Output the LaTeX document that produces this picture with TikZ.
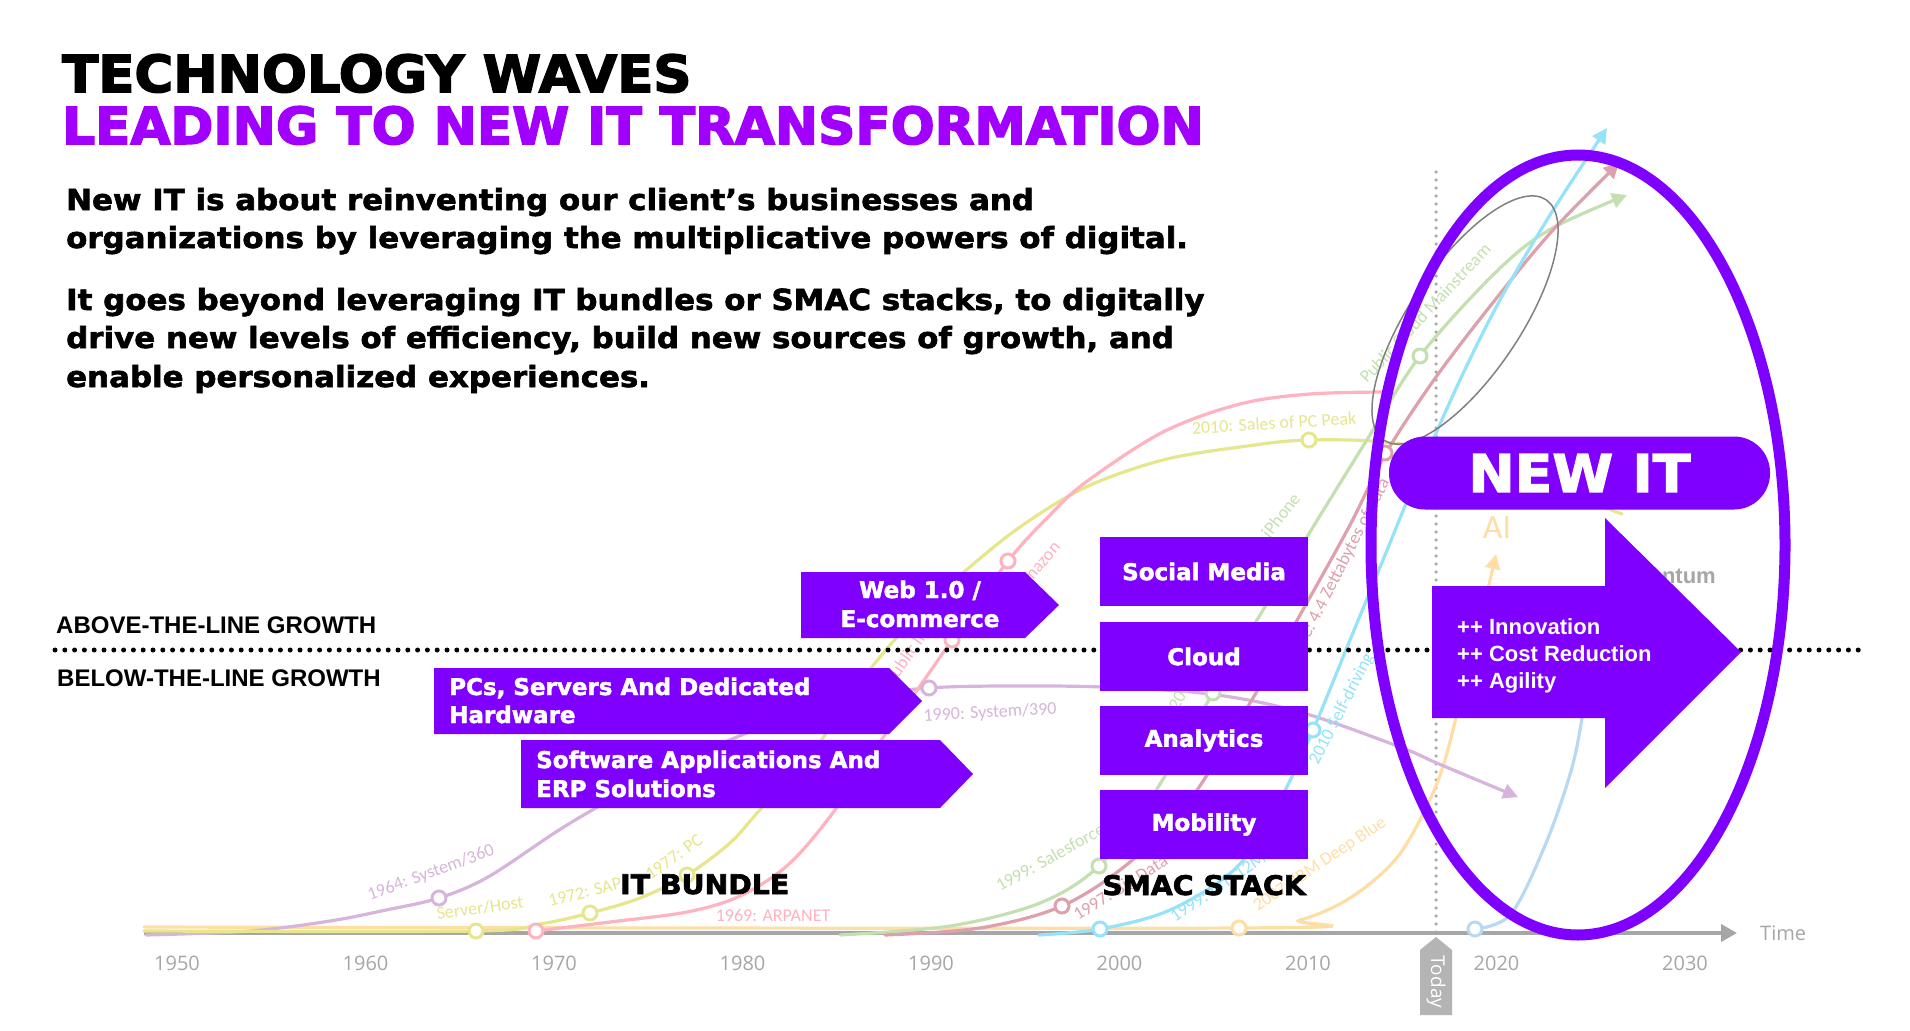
\documentclass[tikz,border=0pt]{standalone}
\usepackage{fontspec}
\usetikzlibrary{arrows.meta,calc}
\setmainfont{Liberation Sans}
\newfontfamily\titlefont{DejaVu Sans}[BoldFeatures={FakeBold=3,FakeStretch=1.038}]
\newfontfamily\subtitlefont{DejaVu Sans}[BoldFeatures={FakeBold=3,FakeStretch=1.014}]
\newfontfamily\bodyfont{DejaVu Sans}[BoldFeatures={FakeBold=2,FakeStretch=1.065}]
\newfontfamily\boxfont{DejaVu Sans}[BoldFeatures={FakeBold=2}]
\newfontfamily\stackfont{DejaVu Sans}[BoldFeatures={FakeBold=2.5,FakeStretch=1.05}]
\newfontfamily\pillfont{DejaVu Sans}[BoldFeatures={FakeBold=2.5,FakeStretch=1.06}]
\newfontfamily\arialbold{Liberation Sans}
\newfontfamily\labfont{Carlito}
\newfontfamily\yearfont{Open Sans}

\definecolor{vio}{RGB}{127,0,255}
\definecolor{titlevio}{RGB}{161,0,255}
\definecolor{cLilac}{RGB}{215,180,220}
\definecolor{cYellow}{RGB}{230,230,140}
\definecolor{cPink}{RGB}{255,178,192}
\definecolor{cGreen}{RGB}{197,224,176}
\definecolor{cRose}{RGB}{222,160,172}
\definecolor{cCyan}{RGB}{150,226,248}
\definecolor{cPeach}{RGB}{255,222,165}
\definecolor{cSky}{RGB}{185,216,242}
\definecolor{axisgray}{RGB}{166,166,166}
\definecolor{taggray}{RGB}{180,180,180}

\tikzset{
  wave/.style={line width=3.2pt, line cap=round},
  wavetip/.style={-{Triangle[length=15pt,width=15pt]}},
  milestone/.style={circle, draw, fill=white, line width=3pt, minimum size=14pt, inner sep=0pt},
  tag/.style={font=\labfont\fontsize{18}{20}\selectfont, inner sep=0pt},
  yearlab/.style={font=\yearfont\fontsize{20}{22}\selectfont, text=axisgray, inner sep=0pt},
  boxtext/.style={text=white, font=\boxfont\bfseries\fontsize{23}{28}\selectfont, inner sep=0pt},
  smacbox/.style={fill=vio, minimum width=208pt, minimum height=69pt, inner sep=0pt,
    text=white, font=\boxfont\bfseries\fontsize{23}{28}\selectfont},
  bodytext/.style={font=\bodyfont\bfseries\fontsize{29}{34}\selectfont, inner sep=0pt, anchor=base west},
  titletext/.style={font=\titlefont\bfseries\fontsize{51}{56}\selectfont, inner sep=0pt, anchor=base west},
  subtitletext/.style={font=\subtitlefont\bfseries\fontsize{51}{56}\selectfont, inner sep=0pt, anchor=base west},
  linelab/.style={font=\arialbold\bfseries\fontsize{24}{26}\selectfont, inner sep=0pt, anchor=base west},
  stacklab/.style={font=\stackfont\bfseries\fontsize{27}{30}\selectfont, inner sep=0pt, anchor=base west},
  gaintext/.style={text=white, font=\arialbold\bfseries\fontsize{22}{24}\selectfont, inner sep=0pt, anchor=base west}
}

\begin{document}
\begin{tikzpicture}[x=1pt,y=-1pt]
\fill[white] (0,0) rectangle (1910,1030);
\useasboundingbox (0,0) rectangle (1910,1030);

% ---------- heading and intro ----------
\node[titletext] (t1) at (62,92) {TECHNOLOGY WAVES};
\node[subtitletext, text=titlevio] (t2) at (62,144) {LEADING TO NEW IT TRANSFORMATION};
\node[bodytext] (b1) at (66,210) {New IT is about reinventing our client’s businesses and};
\node[bodytext] (b2) at (66,248) {organizations by leveraging the multiplicative powers of digital.};
\node[bodytext] (b3) at (66,310) {It goes beyond leveraging IT bundles or SMAC stacks, to digitally};
\node[bodytext] (b4) at (66,348) {drive new levels of efficiency, build new sources of growth, and};
\node[bodytext] (b5) at (66,387) {enable personalized experiences.};

% ---------- today marker ----------
\coordinate (todaytop) at (1436,172);
\coordinate (todaybot) at (1436,936);
\draw[axisgray, line width=3.5pt, line cap=round, dash pattern=on 0pt off 8pt] (todaytop) -- (todaybot);

% ---------- time axis ----------
\coordinate (axisstart) at (144,933);
\coordinate (axisend) at (1737,933);
\draw[axisgray, line width=4.5pt, -{Triangle[length=16pt,width=17pt]}] (axisstart) -- (axisend);
\foreach \yv [count=\i from 0] in {1950,1960,1970,1980,1990,2000,2010,2020,2030}
  \node[yearlab] (yr\yv) at ({177+\i*188.5},963) {\yv};
\node[yearlab, anchor=west] (timelab) at (1760,933) {Time};

% ---------- technology waves ----------
\draw[wave, cPeach, wavetip] plot[smooth, tension=0.55] coordinates {(144,927) (1239,928) (1300,920) (1350,898) (1395,860) (1425,810) (1445,760) (1465,680) (1483,610) (1496,554)};
\draw[wave, cLilac, wavetip] plot[smooth, tension=0.55] coordinates {(146,935) (250,931) (330,921) (386,910) (439,898) (488,877) (559,830) (610,800) (680,762) (737,737) (800,712) (860,696) (929,688) (1000,686) (1103,687) (1210,694) (1300,712) (1400,747) (1439,764) (1518,797)};
\draw[wave, cYellow] plot[smooth, tension=0.55] coordinates {(144,931) (476,931) (540,924) (590,913) (640,898) (687,875) (730,843) (758,812) (814,750) (868,672) (920,612) (964,572) (1020,527) (1086,487) (1163,460) (1240,447) (1309,440) (1400,444) (1500,470) (1622,514)};
\draw[wave, cPink] plot[smooth, tension=0.55] coordinates {(536,931) (610,922) (687,912) (740,896) (789,864) (835,810) (880,742) (920,686) (952,640) (1008,561) (1050,515) (1086,482) (1163,432) (1240,404) (1310,394) (1388,392)};
\draw[wave, cGreen, wavetip] plot[smooth, tension=0.55] coordinates {(840,935) (950,926) (1040,903) (1099,866) (1150,800) (1213,693) (1260,615) (1310,532) (1365,443) (1420,356) (1495,273) (1549,230) (1627,195)};
\draw[wave, cRose, wavetip] plot[smooth, tension=0.55] coordinates {(885,935) (980,928) (1062,906) (1130,862) (1190,800) (1250,703) (1300,615) (1350,525) (1386,453) (1436,377) (1495,300) (1553,230) (1619,163)};
\draw[wave, cCyan, wavetip] plot[smooth, tension=0.55] coordinates {(1039,935) (1100,929) (1170,910) (1237,867) (1280,800) (1313,730) (1350,640) (1383,560) (1420,470) (1460,380) (1500,300) (1550,215) (1607,128)};
\draw[wave, cSky] plot[smooth, tension=0.55] coordinates {(1475,929) (1511,914) (1546,843) (1571,771) (1582,718) (1590,660)};

% ---------- milestones ----------
\node[milestone, draw=cLilac] (m1964) at (439,898) {};
\node[milestone, draw=cLilac] (m1990) at (929,688) {};
\node[milestone, draw=cYellow] (mhost) at (476,931) {};
\node[milestone, draw=cYellow] (m1972) at (590,913) {};
\node[milestone, draw=cYellow] (m1977) at (687,875) {};
\node[milestone, draw=cYellow] (m2010) at (1309,440) {};
\node[milestone, draw=cPink] (m1969) at (536,931) {};
\node[milestone, draw=cPink] (mnet) at (952,640) {};
\node[milestone, draw=cPink] (mamz) at (1008,561) {};
\node[milestone, draw=cGreen] (msf) at (1099,866) {};
\node[milestone, draw=cGreen] (maws) at (1213,693) {};
\node[milestone, draw=cGreen] (mcloud) at (1420,356) {};
\node[milestone, draw=cRose] (mbig) at (1062,906) {};
\node[milestone, draw=cRose] (mzetta) at (1385,453) {};
\node[milestone, draw=cCyan] (miot) at (1100,929) {};
\node[milestone, draw=cCyan] (mdrive) at (1313,730) {};
\node[milestone, draw=cPeach] (mdeep) at (1239,928) {};
\node[milestone, draw=cSky] (mqua) at (1475,929) {};

% ---------- milestone labels ----------
\node[tag, cLilac, rotate=20] (l360) at (431,873) {1964: System/360};
\node[tag, cYellow, rotate=8] (lhost) at (480,908) {Server/Host};
\node[tag, cYellow, rotate=14] (lsap) at (585,892) {1972: SAP};
\node[tag, cYellow, rotate=36] (lpc) at (674,857) {1977: PC};
\node[tag, cPink] (larpa) at (773,915) {1969: ARPANET};
\node[tag, cLilac, rotate=3] (l390) at (990,713) {1990: System/390};
\node[tag, cPink, rotate=55, anchor=base west] (lnet) at (893,686) {Public Internet};
\node[tag, cPink, rotate=50, anchor=base west] (lamz) at (1023,593) {Amazon};
\node[tag, cYellow, rotate=3.5] (lpeak) at (1274,423) {2010: Sales of PC Peak};
\node[tag, cGreen, rotate=29, anchor=base west] (lsf) at (1000,892) {1999: Salesforce};
\node[tag, cRose, rotate=32, anchor=base west] (lbig) at (1078,921) {1997: Big Data};
\node[tag, cCyan, rotate=34, anchor=base west] (liot) at (1175,923) {1999: IoT: 12M};
\node[tag, cPeach, rotate=34, anchor=base west] (ldeep) at (1258,912) {2007: IBM Deep Blue};
\node[tag, cGreen, rotate=62, anchor=base west] (laws) at (1178,712) {2006: AWS};
\node[tag, cGreen, rotate=52, anchor=base west] (lphone) at (1241,576) {2007: iPhone};
\node[tag, cRose, rotate=63, anchor=base west] (lzetta) at (1302,654) {IDC: 4.4 Zettabytes of data};
\node[tag, cCyan, rotate=63, anchor=base west] (ldrive) at (1318,766) {2010 Self-driving};
\node[tag, cGreen, rotate=47, anchor=base west] (lcloud) at (1367,384) {Public Cloud Mainstream};
\node[cPeach, font=\labfont\fontsize{34}{36}\selectfont, inner sep=0pt] (lai) at (1497,528) {AI};
\node[text=axisgray, font=\arialbold\bfseries\fontsize{22}{24}\selectfont, inner sep=0pt, anchor=base west] (lqua) at (1619,583) {Quantum};

% ---------- growth line ----------
\coordinate (growthstart) at (55,650);
\coordinate (growthend) at (1864,650);
\draw[black, line width=5pt, line cap=round, dash pattern=on 0pt off 9.8pt] (growthstart) -- (growthend);
\node[linelab] (above) at (56,633) {ABOVE-THE-LINE GROWTH};
\node[linelab] (below) at (57,686) {BELOW-THE-LINE GROWTH};

% ---------- convergence ring ----------
\draw[gray, line width=1.5pt, rotate around={56:(1465,320)}] (1465,320) ellipse [x radius=145pt, y radius=55pt];

% ---------- IT bundle ----------
\fill[vio] (434,668) -- (889,668) -- (922,701) -- (889,734) -- (434,734) -- cycle;
\node[boxtext, anchor=base west] (pcs1) at (449,695) {PCs, Servers And Dedicated};
\node[boxtext, anchor=base west] (pcs2) at (449,723) {Hardware};
\fill[vio] (521,740) -- (940,740) -- (973,774) -- (940,808) -- (521,808) -- cycle;
\node[boxtext, anchor=base west] (sw1) at (536,768) {Software Applications And};
\node[boxtext, anchor=base west] (sw2) at (536,797) {ERP Solutions};
\fill[vio] (801,572) -- (1025,572) -- (1059,605) -- (1025,638) -- (801,638) -- cycle;
\node[boxtext, anchor=base] (web1) at (920,598) {Web 1.0 /};
\node[boxtext, anchor=base] (web2) at (920,627) {E-commerce};
\node[stacklab] (itb) at (620,894) {IT BUNDLE};

% ---------- SMAC stack ----------
\node[smacbox] (social) at (1204,571.5) {Social Media};
\node[smacbox] (cloud) at (1204,656.5) {Cloud};
\node[smacbox] (analytics) at (1204,740.5) {Analytics};
\node[smacbox] (mobility) at (1204,824.5) {Mobility};
\node[stacklab] (smac) at (1102,895) {SMAC STACK};

% ---------- today tag ----------
\fill[taggray] (1420,950) -- (1436,937) -- (1452,950) -- (1452,1015) -- (1420,1015) -- cycle;
\node[font=\yearfont\fontsize{19}{21}\selectfont, text=white, rotate=-90, inner sep=0pt] (today) at (1436,982) {Today};

% ---------- new IT ----------
\draw[vio, line width=11pt] (1578,545) ellipse [x radius=207pt, y radius=390pt];
\node[fill=vio, rounded corners=36pt, minimum width=381pt, minimum height=73pt, inner sep=0pt,
      text=white, font=\pillfont\bfseries\fontsize{52}{56}\selectfont] (newit) at (1579.5,473) {NEW IT};
\fill[vio] (1432,586) -- (1605,586) -- (1605,518) -- (1741,652) -- (1605,788) -- (1605,718) -- (1432,718) -- cycle;
\node[gaintext] (g1) at (1457,634) {++ Innovation};
\node[gaintext] (g2) at (1457,661) {++ Cost Reduction};
\node[gaintext] (g3) at (1457,688) {++ Agility};
\end{tikzpicture}
\end{document}
